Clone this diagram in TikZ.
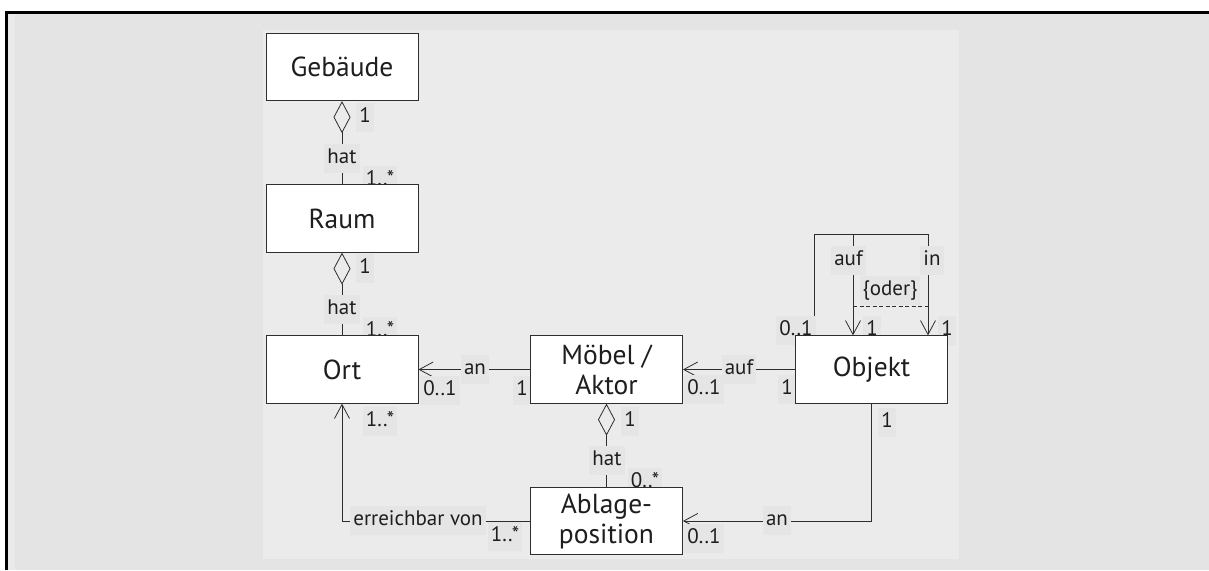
\documentclass[tikz,border=0pt]{standalone}
\usepackage{fontspec}
\setmainfont{PT Sans}
\usetikzlibrary{arrows.meta}
\pgfdeclarelayer{bg}
\pgfdeclarelayer{lines}
\pgfsetlayers{bg,lines,main}
\definecolor{outerbg}{HTML}{E4E4E4}
\definecolor{innerbg}{HTML}{EBEBEB}
\definecolor{stripbg}{HTML}{EAEAEA}
\definecolor{labbg}{HTML}{E5E5E5}
\definecolor{linecol}{HTML}{2E2E2E}
\definecolor{textcol}{HTML}{1E1E1E}
\tikzset{
  classbox/.style={draw=linecol, fill=white, line width=0.8pt, minimum width=152pt,
    minimum height=67.5pt, inner sep=0pt, align=center, text=textcol,
    font=\fontsize{27.5}{30}\selectfont},
  lab/.style={fill=labbg, inner xsep=3pt, inner ysep=4.5pt, text height=15pt,
    text depth=5pt, text=textcol, font=\fontsize{21}{24}\selectfont},
  conn/.style={draw=linecol, line width=0.8pt},
  arr/.style={conn, -{Straight Barb[length=14pt, width=15pt]}},
  agg/.style={conn, {Diamond[open, length=32pt, width=17pt]}-},
}
\begin{document}
\begin{tikzpicture}[x=1pt,y=-1pt]
\useasboundingbox (0,0) rectangle (1209,570);
\begin{pgfonlayer}{bg}
  \fill[white] (0,0) rectangle (1209,570);
  \fill[outerbg] (5,11) rectangle (1209,570);
  \fill[stripbg] (8,14) rectangle (15,570);
  \fill[innerbg] (263,30) rectangle (959,559);
  \fill[black] (5,11) rectangle (1209,14);
  \fill[black] (5,11) rectangle (8,570);
\end{pgfonlayer}

% classes
\node[classbox] (gebaeude) at (342,67) {Gebäude};
\node[classbox] (raum) at (342,218.5) {Raum};
\node[classbox] (ort) at (342,369.5) {Ort};
\node[classbox] (moebel) at (606.5,369.5) {Möbel /\\Aktor};
\node[classbox] (objekt) at (871.5,369.5) {Objekt};
\node[classbox] (ablage) at (606.5,521) {Ablage-\\position};

\coordinate (loopL) at (814,234);
\coordinate (loopA) at (853,234);
\coordinate (loopI) at (928,234);
\coordinate (orA) at (853,306);
\coordinate (orI) at (928,306);

\begin{pgfonlayer}{lines}
  \draw[agg] (gebaeude.south) -- (raum.north);
  \draw[agg] (raum.south) -- (ort.north);
  \draw[agg] (moebel.south) -- (ablage.north);
  \draw[arr] (moebel.west) -- (ort.east);
  \draw[arr] (objekt.west) -- (moebel.east);
  \draw[arr] (objekt.south) |- (ablage.east);
  \draw[arr] (ablage.west) -| (ort.south);
  \draw[arr] (objekt.north -| loopL) -- (loopL) -- (loopA) -- (objekt.north -| loopA);
  \draw[arr] (objekt.north -| loopL) -- (loopL) -- (loopI) -- (objekt.north -| loopI);
  \draw[conn, dashed, dash pattern=on 4pt off 2.5pt] (orA) -- (orI);

  % labels
  \node[lab] (l1) at (365,117.5) {1};
  \node[lab] (l2) at (342,158) {hat};
  \node[lab] (l3) at (380,180) {1..*};
  \node[lab] (l4) at (365,268.5) {1};
  \node[lab] (l5) at (342,309) {hat};
  \node[lab] (l6) at (380,331) {1..*};
  \node[lab] (l7) at (475,369) {an};
  \node[lab] (l8) at (440,390) {0..1};
  \node[lab] (l9) at (522,390) {1};
  \node[lab] (l10) at (380,421) {1..*};
  \node[lab] (l11) at (739,369) {auf};
  \node[lab] (l12) at (704,389) {0..1};
  \node[lab] (l13) at (787,389) {1};
  \node[lab] (l14) at (887,422) {1};
  \node[lab] (l15) at (630,421) {1};
  \node[lab] (l16) at (607,460) {hat};
  \node[lab] (l17) at (645,482) {0..*};
  \node[lab] (l18) at (418,520) {erreichbar von};
  \node[lab] (l19) at (505,536) {1..*};
  \node[lab] (l20) at (777,520) {an};
  \node[lab] (l21) at (704,538) {0..1};
  \node[lab] (l22) at (796,330) {0..1};
  \node[lab] (l23) at (872,330) {1};
  \node[lab] (l24) at (947,330) {1};
  \node[lab] (l25) at (848.5,260) {auf};
  \node[lab] (l26) at (932,260) {in};
  \node[lab] (l27) at (890,290) {\{oder\}};
\end{pgfonlayer}
\end{tikzpicture}
\end{document}
